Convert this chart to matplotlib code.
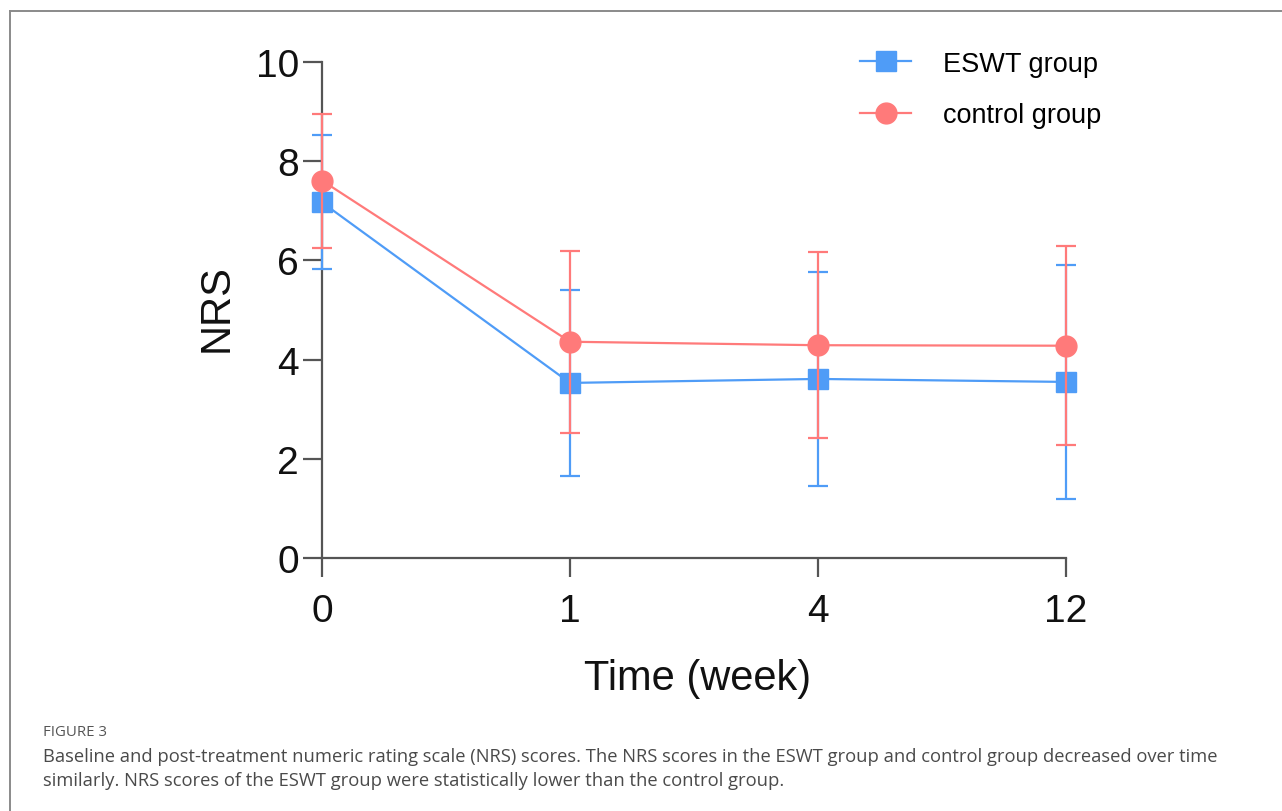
import numpy as np
import matplotlib
matplotlib.use("Agg")
import matplotlib.pyplot as plt
from matplotlib.lines import Line2D

# data (mean +/- SD)
weeks = ["0", "1", "4", "12"]
eswt_mean = [7.17, 3.53, 3.61, 3.55]
eswt_sd = [1.35, 1.87, 2.16, 2.36]
ctrl_mean = [7.61, 4.36, 4.29, 4.28]
ctrl_sd = [1.35, 1.83, 1.87, 2.01]

blue = "#4f9cf7"
red = "#ff7a7a"
axis_col = "#555555"

plt.rcParams['font.family'] = ['Liberation Sans', 'DejaVu Sans']

fig = plt.figure(figsize=(12.82, 8.12), dpi=100)
ax = fig.add_axes([322/1282, 1-559/812, 744/1282, 496/812])

x = np.arange(len(weeks))

# ESWT first, control drawn on top
ax.errorbar(x, eswt_mean, yerr=eswt_sd, color=blue, lw=1.6, elinewidth=1.6,
            capsize=7.5, capthick=1.6, marker="s", ms=14, mec=blue, mfc=blue,
            clip_on=False, zorder=3)
ax.errorbar(x, ctrl_mean, yerr=ctrl_sd, color=red, lw=1.6, elinewidth=1.6,
            capsize=7.5, capthick=1.6, marker="o", ms=15, mec=red, mfc=red,
            clip_on=False, zorder=4)

ax.set_xlim(0, 3)
ax.set_ylim(0, 10)
ax.set_xticks(x)
ax.set_xticklabels(weeks)
ax.set_yticks([0, 2, 4, 6, 8, 10])

for s in ["top", "right"]:
    ax.spines[s].set_visible(False)
for s in ["left", "bottom"]:
    ax.spines[s].set_color(axis_col)
    ax.spines[s].set_linewidth(1.6)

ax.tick_params(axis="both", direction="out", length=13.5, width=1.6,
               color=axis_col, labelsize=28, labelcolor="#111111")
ax.tick_params(axis="x", pad=12)
ax.tick_params(axis="y", pad=3)

ax.set_xlabel("Time (week)", fontsize=30, color="#111111")
ax.xaxis.set_label_coords(0.505, -0.202)
ax.set_ylabel("NRS", fontsize=30, color="#111111")
ax.yaxis.set_label_coords(-0.115, 0.505)

handles = [
    Line2D([], [], color=blue, lw=1.6, marker="s", ms=14, mfc=blue, mec=blue),
    Line2D([], [], color=red, lw=1.6, marker="o", ms=15, mfc=red, mec=red),
]
ax.legend(handles, ["ESWT group", "control group"], loc="upper left",
          bbox_to_anchor=(0.691, 1.072), frameon=False, fontsize=19.5,
          handlelength=1.85, handletextpad=1.2, labelspacing=0.95)

# panel frame
fig.add_artist(Line2D([10/1282, 10/1282], [0, 1-12/812], color="#8a8a8a", lw=1.4))
fig.add_artist(Line2D([10/1282, 1], [1-12/812, 1-12/812], color="#8a8a8a", lw=1.4))

# caption
cap_font = ["Open Sans", "DejaVu Sans"]
fig.text(43/1282, 1-733/812, "FIGURE 3", fontsize=10.8, color="#555555",
         family=cap_font, va="center")
fig.text(43/1282, 1-757/812,
         "Baseline and post-treatment numeric rating scale (NRS) scores. The NRS scores in the ESWT group and control group decreased over time",
         fontsize=13.2, color="#4a4a4a", family=cap_font, va="center")
fig.text(43/1282, 1-781/812,
         "similarly. NRS scores of the ESWT group were statistically lower than the control group.",
         fontsize=13.2, color="#4a4a4a", family=cap_font, va="center")

fig.savefig("out.png", dpi=100)
